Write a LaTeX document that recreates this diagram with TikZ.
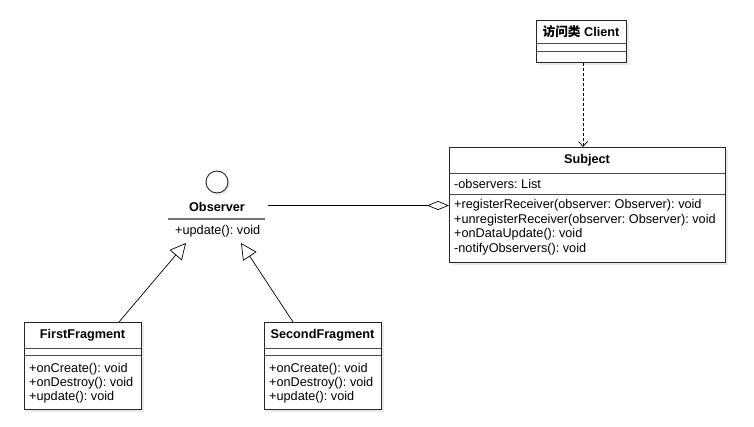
\documentclass[tikz,border=0pt]{standalone}
\usepackage{fontspec}
\setmainfont{Liberation Sans}
\newfontfamily\cjk{Noto Sans CJK SC}
\usetikzlibrary{arrows.meta}
\frenchspacing
\tikzset{
  cls/.style={draw=black!85, fill=white, line width=0.9pt, anchor=north west, inner sep=0pt},
  shadowbox/.style={fill=black!8},
  title/.style={font=\fontsize{12.7}{14}\selectfont\bfseries, inner sep=0pt},
  member/.style={font=\fontsize{12.7}{14}\selectfont, anchor=west, inner sep=0pt},
  sep/.style={draw=black!70, line width=0.9pt},
  conn/.style={draw=black, line width=0.7pt},
}
\begin{document}
\begin{tikzpicture}[x=1pt,y=-1pt]
\useasboundingbox (0,0) rectangle (754,427);
% shadows
\fill[shadowbox] (539,23) rectangle (629,65);
\fill[shadowbox] (452,150) rectangle (728,265);
\fill[shadowbox] (27,325) rectangle (144,412);
\fill[shadowbox] (267,325) rectangle (384,412);
\fill[shadowbox] (219,184) circle (11);
% Client
\node[cls, minimum width=90, minimum height=42] (client) at (536,20) {};
\draw[sep] (536,43) -- (626,43);
\draw[sep] (536,51) -- (626,51);
\node[title] (clientT) at (581,31.5) {{\cjk 访问类} Client};
% Subject
\node[cls, minimum width=276, minimum height=115] (subject) at (449,147) {};
\draw[sep] (449,173) -- (725,173);
\draw[sep] (449,194) -- (725,194);
\node[title] (subjectT) at (587,160) {Subject};
\node[member] (s1) at (454,183.5) {-observers: List};
\node[member] (s2) at (454,205) {+registerReceiver(observer: Observer): void};
\node[member] (s3) at (454,220) {+unregisterReceiver(observer: Observer): void};
\node[member] (s4) at (454,234.5) {+onDataUpdate(): void};
\node[member] (s5) at (454,249) {-notifyObservers(): void};
% Observer interface
\node[draw=black!85, fill=white, line width=0.9pt, circle, minimum size=22, inner sep=0pt] (obscirc) at (217,182) {};
\node[title] (obs) at (217,206.5) {Observer};
\draw[draw=black!55, line width=1.4pt] (168,219) -- (265,219);
\node[member] (obsM) at (175,231) {+update(): void};
% FirstFragment
\node[cls, minimum width=117, minimum height=87] (ff) at (24,322) {};
\draw[sep] (24,348) -- (141,348);
\draw[sep] (24,355) -- (141,355);
\node[title] (ffT) at (82.5,335.5) {FirstFragment};
\node[member] (f1) at (29,369) {+onCreate(): void};
\node[member] (f2) at (29,383) {+onDestroy(): void};
\node[member] (f3) at (29,397.5) {+update(): void};
% SecondFragment
\node[cls, minimum width=117, minimum height=87] (sf) at (264,322) {};
\draw[sep] (264,348) -- (381,348);
\draw[sep] (264,355) -- (381,355);
\node[title] (sfT) at (322.5,335.5) {SecondFragment};
\node[member] (g1) at (269,369) {+onCreate(): void};
\node[member] (g2) at (269,383) {+onDestroy(): void};
\node[member] (g3) at (269,397.5) {+update(): void};
% connectors
\coordinate (dx) at (583,0);
\draw[conn, dash pattern=on 3pt off 2pt, -{Straight Barb[length=5,width=9]}] (client.south -| dx) -- (subject.north -| dx);
\coordinate (obsR) at (268,205.5);
\draw[conn, -{Diamond[open,length=22,width=9,line width=0.7pt]}] (obsR) -- (obsR -| subject.west);
\coordinate (t1) at (186,243);
\coordinate (b1) at (119,0);
\draw[conn, -{Triangle[open,length=16,width=16,line width=0.7pt]}] (ff.north -| b1) -- (t1);
\coordinate (t2) at (241,243);
\coordinate (b2) at (293,0);
\draw[conn, -{Triangle[open,length=16,width=16,line width=0.7pt]}] (sf.north -| b2) -- (t2);
\end{tikzpicture}
\end{document}
